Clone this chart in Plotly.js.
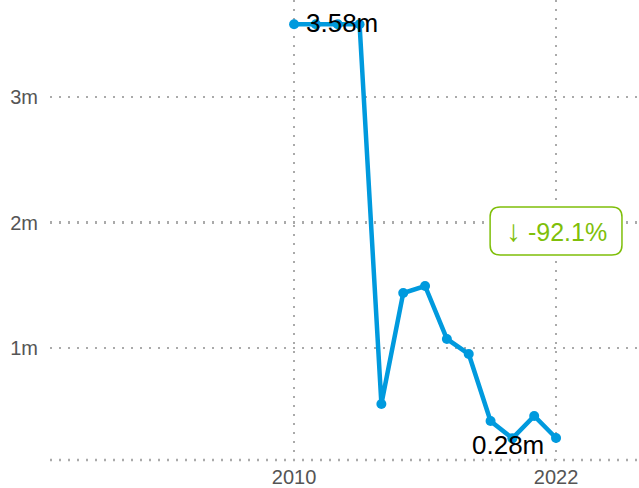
<!DOCTYPE html>
<html>
<head>
<meta charset="utf-8">
<script src="https://cdn.plot.ly/plotly-3.0.1.min.js"></script>
<style>html,body{margin:0;padding:0;background:#fff;}#chart{width:639px;height:488px;}</style>
</head>
<body>
<div id="chart"></div>
<script>
const years = [2010, 2011, 2012, 2013, 2014, 2015, 2016, 2017, 2018, 2019, 2020, 2021, 2022];
const values = [3580000, 3580000, 3580000, 3580000, 554000, 1438000, 1494000, 1072000, 952000, 418000, 280000, 458000, 283000];
const yTickVals = [1000000, 2000000, 3000000];
const yTickText = ['1m', '2m', '3m'];
const xTickVals = [2010, 2022];
const maxLabel = '3.58m';
const minLabel = '0.28m';
const changeArrow = '↓';
const changeLabel = '-92.1%';

const maxIdx = 2;
const minIdx = 10;

const trace = {
  x: years, y: values, type: 'scatter', mode: 'lines+markers',
  line: {color: '#009ade', width: 4.5},
  marker: {color: '#009ade', size: 10},
  hoverinfo: 'skip', showlegend: false
};

// rounded box in data coords
const bx0 = 2018.98, bx1 = 2025.02, by0 = 1741000, by1 = 2123000, rx = 0.46, ry = 80000;
const boxPath = `M ${bx0+rx},${by1} L ${bx1-rx},${by1} Q ${bx1},${by1} ${bx1},${by1-ry} L ${bx1},${by0+ry} Q ${bx1},${by0} ${bx1-rx},${by0} L ${bx0+rx},${by0} Q ${bx0},${by0} ${bx0},${by0+ry} L ${bx0},${by1-ry} Q ${bx0},${by1} ${bx0+rx},${by1} Z`;

const gridDash = '2px,7px';
const gridColor = '#aaaaaa';

const layout = {
  width: 639, height: 488,
  margin: {l: 50, r: 0, t: 0, b: 28},
  paper_bgcolor: '#fff', plot_bgcolor: '#fff',
  font: {family: 'Liberation Sans, Arial, sans-serif', color: '#555', size: 20},
  xaxis: {
    range: [1998.82, 2025.8], tickvals: xTickVals, ticks: '',
    showgrid: true, gridcolor: gridColor, griddash: gridDash, gridwidth: 2.5,
    zeroline: false, showline: false, tickfont: {size: 20, color: '#555'},
    ticklabelstandoff: 3
  },
  yaxis: {
    range: [107600, 3773000], tickvals: yTickVals, ticktext: yTickText, ticks: '',
    showgrid: true, gridcolor: gridColor, griddash: gridDash, gridwidth: 2.5,
    zeroline: false, showline: false, tickfont: {size: 20, color: '#555'},
    ticklabelstandoff: 11
  },
  shapes: [
    {type: 'line', xref: 'paper', yref: 'paper', x0: 0, x1: 1, y0: 0, y1: 0,
     line: {color: gridColor, width: 2.5, dash: gridDash}, layer: 'below'},
    {type: 'path', xref: 'x', yref: 'y', path: boxPath, fillcolor: '#fff',
     line: {color: '#7fbf0a', width: 1.5}, layer: 'above'}
  ],
  annotations: [
    {x: years[maxIdx], y: values[maxIdx], xref: 'x', yref: 'y', text: maxLabel, showarrow: false,
     font: {size: 26, color: '#000'}, xanchor: 'center', yanchor: 'middle', xshift: 4, yshift: 1},
    {x: years[minIdx], y: values[minIdx], xref: 'x', yref: 'y', text: minLabel, showarrow: false,
     font: {size: 26, color: '#000'}, xanchor: 'center', yanchor: 'middle', xshift: -4, yshift: -7},
    {x: (bx0 + bx1) / 2, y: (by0 + by1) / 2, xref: 'x', yref: 'y',
     text: '<span style="font-size:30px">' + changeArrow + '</span> ' + changeLabel, showarrow: false,
     font: {size: 25, color: '#7fbf0a', family: 'Liberation Sans, Arial, sans-serif'}, xanchor: 'center', yanchor: 'middle', yshift: 1}
  ]
};

Plotly.newPlot('chart', [trace], layout, {displayModeBar: false, staticPlot: true});
</script>
</body>
</html>
